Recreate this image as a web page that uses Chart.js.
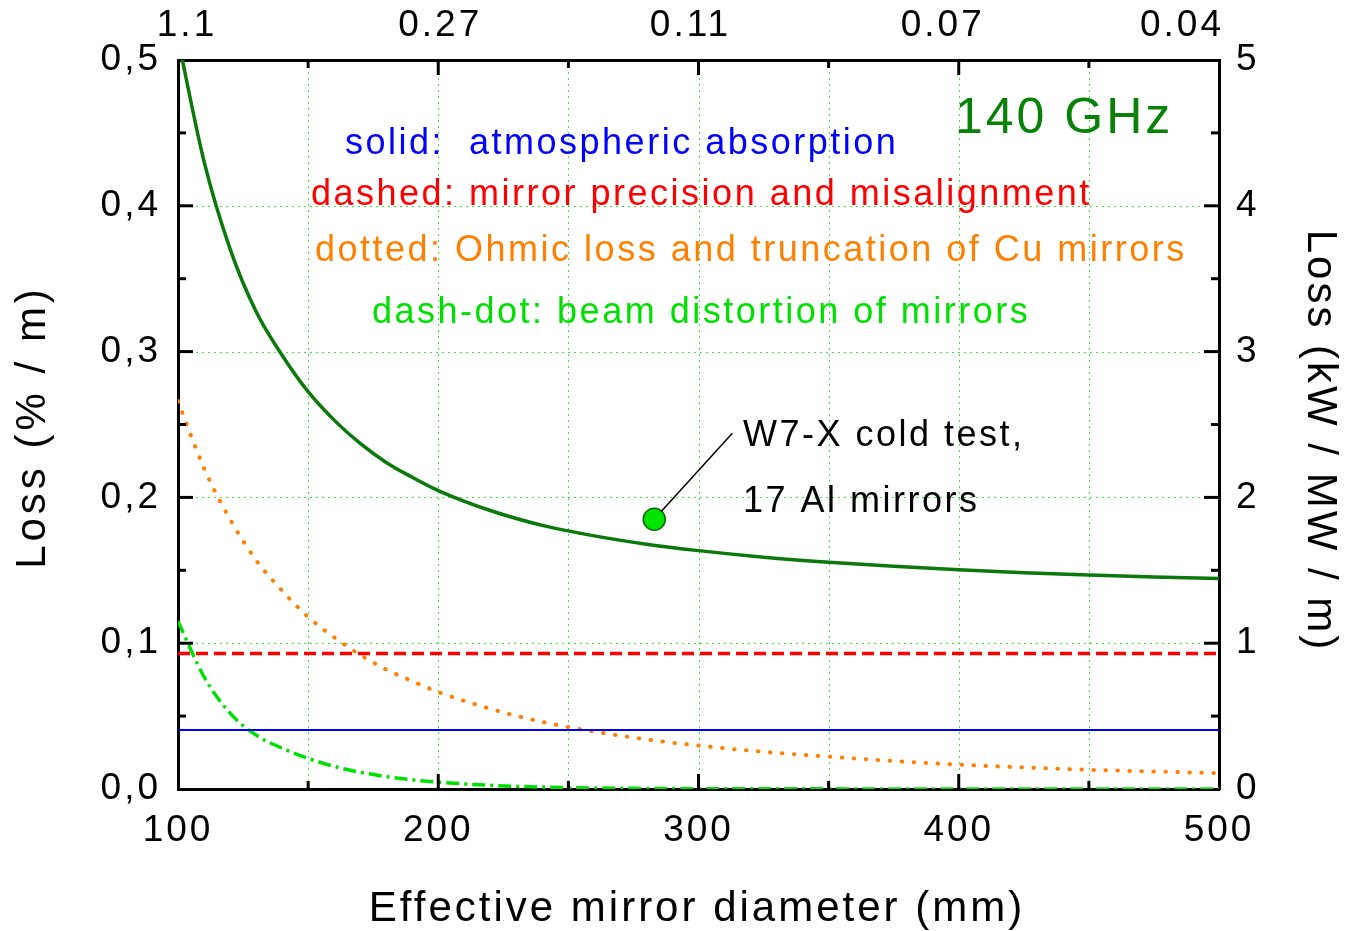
<!DOCTYPE html>
<html lang="en">
<head>
<meta charset="UTF-8">
<title>Loss vs effective mirror diameter</title>
<script src="https://cdn.jsdelivr.net/npm/chart.js@4"></script>
<style>
  body { margin: 0; background: #fff; }
  #wrap { width: 1350px; height: 931px; }
</style>
</head>
<body>
<div id="wrap"><canvas id="chart" width="1350" height="931"></canvas></div>
<script>
// effective mirror diameter (mm)
const diameters = [100, 110, 120, 130, 140, 150, 160, 170, 180, 190, 200,
                   220, 240, 260, 280, 300, 325, 350, 375, 400, 425, 450, 475, 500];
// total loss, solid dark green (% / m)
const totalLoss = [0.5145, 0.4305, 0.3705, 0.3275, 0.2975, 0.2725, 0.253, 0.237, 0.224, 0.2138, 0.2047,
                   0.191, 0.1808, 0.1736, 0.1679, 0.1635, 0.159, 0.1555, 0.1527, 0.1504, 0.1484, 0.1467, 0.1454, 0.1443];
// Ohmic loss + truncation of Cu mirrors (dotted)
const ohmicLoss = [0.266, 0.220, 0.185, 0.157, 0.136, 0.118, 0.104, 0.092, 0.082, 0.074, 0.0665,
                   0.055, 0.046, 0.0394, 0.034, 0.0298, 0.0255, 0.0222, 0.0192, 0.0167, 0.0148, 0.0132, 0.012, 0.0109];
// beam distortion of mirrors (dash-dot)
const distortionLoss = [0.115, 0.077, 0.052, 0.037, 0.028, 0.021, 0.0155, 0.0115, 0.0085, 0.0063, 0.0047,
                        0.0025, 0.0013, 0.0007, 0.0004, 0.0002, 0.0001, 0.0001, 0, 0, 0, 0, 0, 0];
// constant contributions
const lineEnds = [100, 500];
const atmosphericLoss = [0.0405, 0.0405];
const precisionLoss = [0.093, 0.093];
// W7-X cold test point
const coldTestX = [283];
const coldTestY = [0.185];
const leaderEnd = [313, 0.244];
// top axis labels at 100,200,...,500 mm
const topTickLabels = ['1.1', '0.27', '0.11', '0.07', '0.04'];
const topLabelShift = [9, 2, -8, -16, -37];

const pts = (xs, ys) => xs.map((x, i) => ({ x: x, y: ys[i] }));

Chart.defaults.font.family = "'Liberation Sans', Arial, sans-serif";
Chart.defaults.font.size = 37;
Chart.defaults.color = '#000';

const isStep = (v, step) => Math.abs(v / step - Math.round(v / step)) < 1e-6;

function drawText(ctx, str, x, y, opt) {
  ctx.save();
  ctx.font = (opt.size || 36) + "px 'Liberation Sans', Arial, sans-serif";
  ctx.fillStyle = opt.color || '#000';
  ctx.letterSpacing = (opt.ls || 0) + 'px';
  ctx.textAlign = opt.align || 'left';
  ctx.textBaseline = 'alphabetic';
  ctx.translate(x, y);
  if (opt.rotate) ctx.rotate(opt.rotate);
  ctx.fillText(str, 0, 0);
  ctx.restore();
}

const decor = {
  id: 'decor',
  beforeDraw(chart) {
    chart.ctx.letterSpacing = '3px';
  },
  beforeDatasetsDraw(chart) {
    // dotted green grid
    const ctx = chart.ctx;
    const s = chart.scales;
    const a = chart.chartArea;
    ctx.save();
    ctx.strokeStyle = '#3ee63e';
    ctx.lineWidth = 1;
    ctx.setLineDash([2, 4]);
    s.x.ticks.forEach(t => {
      if (t.value === s.x.min || t.value === s.x.max) return;
      const p = Math.round(s.x.getPixelForValue(t.value)) + 0.5;
      ctx.beginPath(); ctx.moveTo(p, a.top); ctx.lineTo(p, a.bottom); ctx.stroke();
    });
    s.y.ticks.forEach(t => {
      if (t.value === s.y.min || t.value === s.y.max || !isStep(t.value, 0.1)) return;
      const p = Math.round(s.y.getPixelForValue(t.value)) + 0.5;
      ctx.beginPath(); ctx.moveTo(a.left, p); ctx.lineTo(a.right, p); ctx.stroke();
    });
    ctx.restore();
  },
  afterDraw(chart) {
    const ctx = chart.ctx;
    const s = chart.scales;
    const area = chart.chartArea;

    // leader line from the cold test point
    const px = s.x.getPixelForValue(coldTestX[0]);
    const py = s.y.getPixelForValue(coldTestY[0]);
    const ex = s.x.getPixelForValue(leaderEnd[0]);
    const ey = s.y.getPixelForValue(leaderEnd[1]);
    const len = Math.hypot(ex - px, ey - py);
    ctx.save();
    ctx.strokeStyle = '#000';
    ctx.lineWidth = 1.5;
    ctx.beginPath();
    ctx.moveTo(px + (ex - px) / len * 10, py + (ey - py) / len * 10);
    ctx.lineTo(ex, ey);
    ctx.stroke();
    ctx.restore();

    // inward tick marks
    ctx.save();
    ctx.strokeStyle = '#000';
    ctx.lineWidth = 3;
    const tick = (id, majorStep, dir) => {
      const sc = s[id];
      sc.ticks.forEach(t => {
        if (t.value === sc.min || t.value === sc.max) return;
        const l = isStep(t.value, majorStep) ? 15 : 8;
        const p = sc.getPixelForValue(t.value);
        ctx.beginPath();
        if (dir === 'b') { ctx.moveTo(p, area.bottom); ctx.lineTo(p, area.bottom - l); }
        if (dir === 't') { ctx.moveTo(p, area.top); ctx.lineTo(p, area.top + l); }
        if (dir === 'l') { ctx.moveTo(area.left, p); ctx.lineTo(area.left + l, p); }
        if (dir === 'r') { ctx.moveTo(area.right, p); ctx.lineTo(area.right - l, p); }
        ctx.stroke();
      });
    };
    tick('x', 100, 'b');
    tick('x2', 100, 't');
    tick('y', 0.1, 'l');
    tick('y2', 1, 'r');
    ctx.restore();

    // top axis labels
    topTickLabels.forEach((lab, i) => {
      const p = s.x2.getPixelForValue(100 + 100 * i) + topLabelShift[i];
      drawText(ctx, lab, p, 36, { size: 37, ls: 3, align: 'center' });
    });

    // annotations
    drawText(ctx, '140 GHz', 955, 133, { size: 50, color: '#078207', ls: 3 });
    drawText(ctx, 'solid:  atmospheric absorption', 345, 154, { size: 36, color: '#0000ff', ls: 2.5 });
    drawText(ctx, 'dashed: mirror precision and misalignment', 311, 205, { size: 36, color: '#ff0000', ls: 2.5 });
    drawText(ctx, 'dotted: Ohmic loss and truncation of Cu mirrors', 315, 261, { size: 36, color: '#ff8000', ls: 2.5 });
    drawText(ctx, 'dash-dot: beam distortion of mirrors', 372, 323, { size: 36, color: '#00e000', ls: 2.5 });
    drawText(ctx, 'W7-X cold test,', 743, 446, { size: 36, color: '#000', ls: 2.5 });
    drawText(ctx, '17 Al mirrors', 743, 512, { size: 36, color: '#000', ls: 2.5 });

    // axis titles
    drawText(ctx, 'Effective mirror diameter (mm)', 697, 921, { size: 42, ls: 3, align: 'center' });
    drawText(ctx, 'Loss (% / m)', 45, 427, { size: 42, ls: 4, align: 'center', rotate: -Math.PI / 2 });
    drawText(ctx, 'Loss (kW / MW / m)', 1308, 441, { size: 42, ls: 3, align: 'center', rotate: Math.PI / 2 });
  }
};

new Chart(document.getElementById('chart'), {
  type: 'line',
  data: {
    datasets: [
      {
        label: 'W7-X cold test',
        data: pts(coldTestX, coldTestY),
        showLine: false,
        pointRadius: 11,
        pointBackgroundColor: '#00e600',
        pointBorderColor: '#0a6a0a',
        pointBorderWidth: 1.5
      },
      {
        label: 'total',
        data: pts(diameters, totalLoss),
        borderColor: '#0a780a',
        borderWidth: 3.5,
        pointRadius: 0,
        cubicInterpolationMode: 'monotone'
      },
      {
        label: 'mirror precision and misalignment',
        data: pts(lineEnds, precisionLoss),
        borderColor: '#ff0000',
        borderWidth: 3.5,
        borderDash: [12, 6],
        pointRadius: 0
      },
      {
        label: 'atmospheric absorption',
        data: pts(lineEnds, atmosphericLoss),
        borderColor: '#0000ff',
        borderWidth: 2,
        pointRadius: 0
      },
      {
        label: 'Ohmic loss and truncation',
        data: pts(diameters, ohmicLoss),
        borderColor: '#ff8000',
        borderWidth: 4,
        borderDash: [0.5, 11.5],
        borderCapStyle: 'round',
        pointRadius: 0,
        cubicInterpolationMode: 'monotone'
      },
      {
        label: 'beam distortion',
        data: pts(diameters, distortionLoss),
        borderColor: '#00e000',
        borderWidth: 3.5,
        borderDash: [13, 5, 3, 5],
        pointRadius: 0,
        cubicInterpolationMode: 'monotone'
      }
    ]
  },
  options: {
    responsive: false,
    animation: false,
    events: [],
    layout: { padding: 0 },
    plugins: { legend: { display: false }, tooltip: { enabled: false } },
    scales: {
      x: {
        type: 'linear',
        position: 'bottom',
        min: 100, max: 500,
        afterFit(sc) { sc.height = 142; },
        ticks: {
          stepSize: 50, autoSkip: false, maxRotation: 0, padding: 20,
          callback: v => isStep(v, 100) ? String(v) : ''
        },
        grid: { display: false, drawTicks: false },
        border: { color: '#000', width: 3 }
      },
      x2: {
        type: 'linear',
        position: 'top',
        min: 100, max: 500,
        afterFit(sc) { sc.height = 60; },
        ticks: { stepSize: 50, autoSkip: false, display: false },
        grid: { display: false, drawTicks: false },
        border: { color: '#000', width: 3 }
      },
      y: {
        position: 'left',
        min: 0, max: 0.5,
        afterFit(sc) { sc.width = 178; },
        ticks: {
          stepSize: 0.05, autoSkip: false, padding: 17,
          callback: v => isStep(v, 0.1) ? v.toFixed(1).replace('.', ',') : ''
        },
        grid: { display: false, drawTicks: false },
        border: { color: '#000', width: 3 }
      },
      y2: {
        position: 'right',
        min: 0, max: 5,
        afterFit(sc) { sc.width = 131; },
        ticks: {
          stepSize: 0.5, autoSkip: false, padding: 17,
          callback: v => isStep(v, 1) ? String(Math.round(v)) : ''
        },
        grid: { display: false, drawTicks: false },
        border: { color: '#000', width: 3 }
      }
    }
  },
  plugins: [decor]
});
</script>
</body>
</html>
